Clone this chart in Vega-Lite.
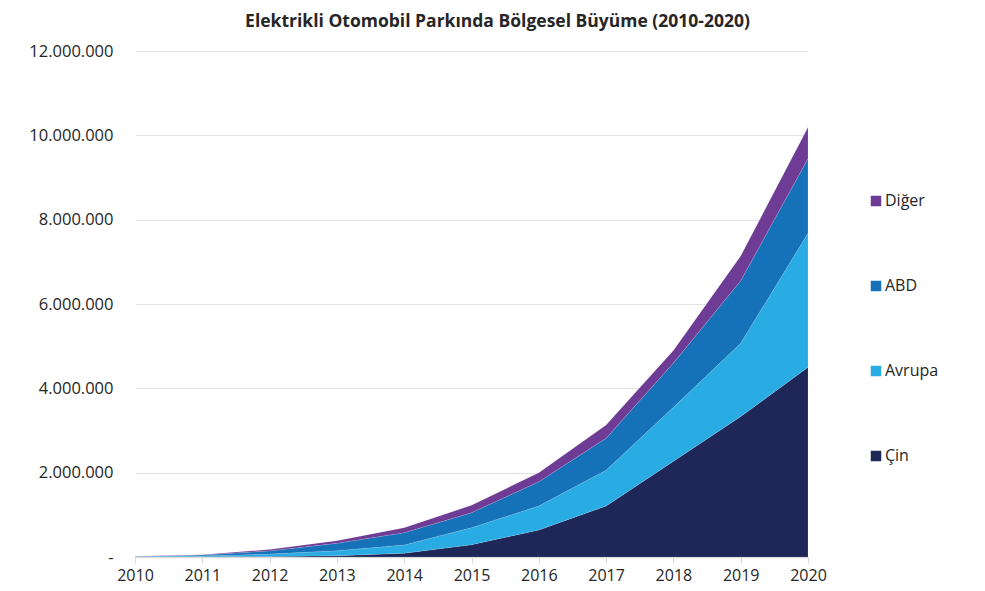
{
  "$schema": "https://vega.github.io/schema/vega-lite/v6.json",
  "width": 673,
  "height": 506,
  "autosize": "none",
  "padding": {"left": 135, "top": 51, "right": 177, "bottom": 34},
  "background": "white",
  "config": {
    "locale": {"number": {"decimal": ",", "thousands": ".", "grouping": [3], "currency": ["", ""]}},
    "view": {"stroke": null},
    "font": "Open Sans"
  },
  "title": {
    "text": "Elektrikli Otomobil Parkında Bölgesel Büyüme (2010-2020)",
    "fontSize": 17.5,
    "fontWeight": "bold",
    "color": "#262626",
    "font": "Open Sans",
    "anchor": "middle",
    "dx": 26,
    "offset": 13
  },
  "data": {
    "values": [
      {"yil": "2010", "bolge": "Çin", "deger": 2000},
      {"yil": "2010", "bolge": "Avrupa", "deger": 6000},
      {"yil": "2010", "bolge": "ABD", "deger": 4000},
      {"yil": "2010", "bolge": "Diğer", "deger": 3000},
      {"yil": "2011", "bolge": "Çin", "deger": 5000},
      {"yil": "2011", "bolge": "Avrupa", "deger": 20000},
      {"yil": "2011", "bolge": "ABD", "deger": 20000},
      {"yil": "2011", "bolge": "Diğer", "deger": 10000},
      {"yil": "2012", "bolge": "Çin", "deger": 12000},
      {"yil": "2012", "bolge": "Avrupa", "deger": 58000},
      {"yil": "2012", "bolge": "ABD", "deger": 75000},
      {"yil": "2012", "bolge": "Diğer", "deger": 35000},
      {"yil": "2013", "bolge": "Çin", "deger": 30000},
      {"yil": "2013", "bolge": "Avrupa", "deger": 120000},
      {"yil": "2013", "bolge": "ABD", "deger": 175000},
      {"yil": "2013", "bolge": "Diğer", "deger": 62000},
      {"yil": "2014", "bolge": "Çin", "deger": 90000},
      {"yil": "2014", "bolge": "Avrupa", "deger": 195000},
      {"yil": "2014", "bolge": "ABD", "deger": 292000},
      {"yil": "2014", "bolge": "Diğer", "deger": 118000},
      {"yil": "2015", "bolge": "Çin", "deger": 292000},
      {"yil": "2015", "bolge": "Avrupa", "deger": 403000},
      {"yil": "2015", "bolge": "ABD", "deger": 355000},
      {"yil": "2015", "bolge": "Diğer", "deger": 176000},
      {"yil": "2016", "bolge": "Çin", "deger": 640000},
      {"yil": "2016", "bolge": "Avrupa", "deger": 570000},
      {"yil": "2016", "bolge": "ABD", "deger": 576000},
      {"yil": "2016", "bolge": "Diğer", "deger": 214000},
      {"yil": "2017", "bolge": "Çin", "deger": 1210000},
      {"yil": "2017", "bolge": "Avrupa", "deger": 850000},
      {"yil": "2017", "bolge": "ABD", "deger": 755000},
      {"yil": "2017", "bolge": "Diğer", "deger": 315000},
      {"yil": "2018", "bolge": "Çin", "deger": 2270000},
      {"yil": "2018", "bolge": "Avrupa", "deger": 1280000},
      {"yil": "2018", "bolge": "ABD", "deger": 1050000},
      {"yil": "2018", "bolge": "Diğer", "deger": 300000},
      {"yil": "2019", "bolge": "Çin", "deger": 3330000},
      {"yil": "2019", "bolge": "Avrupa", "deger": 1740000},
      {"yil": "2019", "bolge": "ABD", "deger": 1480000},
      {"yil": "2019", "bolge": "Diğer", "deger": 590000},
      {"yil": "2020", "bolge": "Çin", "deger": 4500000},
      {"yil": "2020", "bolge": "Avrupa", "deger": 3180000},
      {"yil": "2020", "bolge": "ABD", "deger": 1770000},
      {"yil": "2020", "bolge": "Diğer", "deger": 740000}
    ]
  },
  "transform": [
    {"calculate": "indexof(['Çin', 'Avrupa', 'ABD', 'Diğer'], datum.bolge)", "as": "sira"}
  ],
  "mark": {"type": "area", "stroke": "#ffffff", "strokeWidth": 0.3, "strokeOpacity": 0.4},
  "encoding": {
    "x": {
      "field": "yil",
      "type": "ordinal",
      "scale": {"type": "point", "padding": 0},
      "axis": {
        "title": null,
        "labelAngle": 0,
        "labelFontSize": 16,
        "labelColor": "#262626",
        "labelPadding": 4,
        "domainColor": "#d9d9d9",
        "domainWidth": 1.5,
        "tickColor": "#d9d9d9",
        "tickSize": 6,
        "grid": false
      }
    },
    "y": {
      "field": "deger",
      "type": "quantitative",
      "stack": "zero",
      "scale": {"domain": [0, 12000000], "nice": false},
      "axis": {
        "title": null,
        "values": [0, 2000000, 4000000, 6000000, 8000000, 10000000, 12000000],
        "format": ",d",
        "labelExpr": "datum.value == 0 ? '-' : datum.label",
        "labelFontSize": 16.5,
        "labelColor": "#262626",
        "labelPadding": 22,
        "labelOverlap": false,
        "domain": false,
        "ticks": false,
        "gridColor": "#e3e3e3",
        "gridWidth": 1.2
      }
    },
    "order": {"field": "sira", "type": "quantitative", "sort": "ascending"},
    "color": {
      "field": "bolge",
      "type": "nominal",
      "scale": {
        "domain": ["Çin", "Avrupa", "ABD", "Diğer"],
        "range": ["#1f2759", "#29ace3", "#1572b8", "#6e3b95"]
      },
      "legend": {
        "title": null,
        "orient": "none",
        "legendX": 733,
        "legendY": 142,
        "values": ["Diğer", "ABD", "Avrupa", "Çin"],
        "symbolType": "square",
        "symbolSize": 110,
        "symbolStrokeWidth": 0,
        "labelFontSize": 16,
        "labelColor": "#262626",
        "labelOffset": 1,
        "rowPadding": 69
      }
    }
  }
}
